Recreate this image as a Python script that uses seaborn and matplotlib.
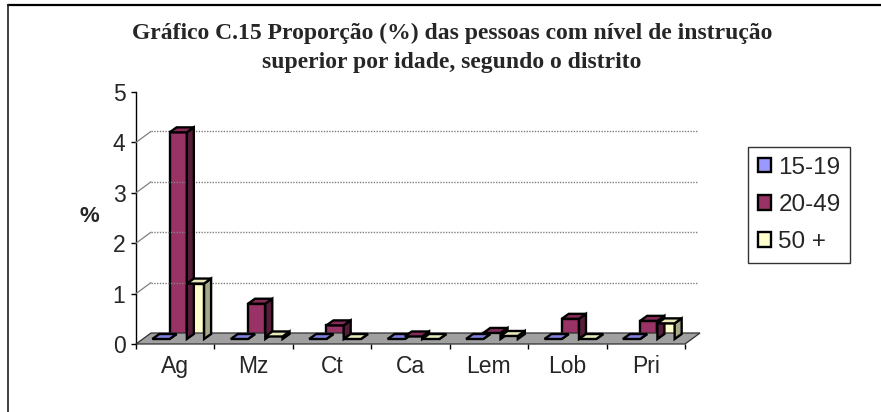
import numpy as np
import pandas as pd
import seaborn as sns
import matplotlib
matplotlib.use("Agg")
import matplotlib.pyplot as plt
from matplotlib.patches import Polygon, Patch
from matplotlib.lines import Line2D
from matplotlib.transforms import ScaledTranslation, IdentityTransform

# --- data -------------------------------------------------------------
districts = ["Ag", "Mz", "Ct", "Ca", "Lem", "Lob", "Pri"]
age_groups = ["15-19", "20-49", "50 +"]
pct_15_19 = [0.0, 0.0, 0.0, 0.0, 0.0, 0.0, 0.0]
pct_20_49 = [4.1, 0.7, 0.27, 0.05, 0.12, 0.4, 0.36]
pct_50_plus = [1.1, 0.05, 0.0, 0.0, 0.06, 0.0, 0.31]
y_ticks = [0, 1, 2, 3, 4, 5]

title = ("Gráfico C.15 Proporção (%) das pessoas com nível de instrução\n"
         "superior por idade, segundo o distrito")

front_colors = {"15-19": "#9999FF", "20-49": "#993366", "50 +": "#FFFFCC"}
top_colors = {"15-19": "#8080E0", "20-49": "#862B58", "50 +": "#E8E8B8"}
side_colors = {"15-19": "#5C5C99", "20-49": "#561C39", "50 +": "#A8A888"}

df = pd.DataFrame({
    "distrito": districts * 3,
    "idade": ["15-19"] * 7 + ["20-49"] * 7 + ["50 +"] * 7,
    "valor": pct_15_19 + pct_20_49 + pct_50_plus,
})

# --- figure -----------------------------------------------------------
W, H, DPI = 881, 412, 100
sns.set_theme(style="white")
plt.rcParams["font.family"] = ["Liberation Sans", "DejaVu Sans"]
fig = plt.figure(figsize=(W / DPI, H / DPI), dpi=DPI)
fig.patch.set_facecolor("white")

# axes frame = front plane of the 3-D box
ax_l, ax_r, ax_t, ax_b = 136, 685, 92, 344
ax = fig.add_axes([ax_l / W, 1 - ax_b / H, (ax_r - ax_l) / W, (ax_b - ax_t) / H])
ax.set_facecolor("none")

EDGE = 1.7
sns.barplot(data=df, x="distrito", y="valor", hue="idade",
            order=districts, hue_order=age_groups,
            palette=front_colors, width=0.66, saturation=1,
            edgecolor="black", linewidth=EDGE, legend=False, ax=ax)
ax.set_xlim(-0.5, len(districts) - 0.5)
ax.set_ylim(0, 5)

# depth of the box (floor / back wall) and of each column, in pixels
DX, DY = 15, 11
BAR_SHIFT_X, BAR_SHIFT_Y = 3, 5
BDX, BDY = 7, 5

px = lambda v: v / DPI
to_disp = ax.transData.transform

# back-wall gridlines and the diagonals joining them to the value axis
for v in y_ticks[1:-1]:
    x0, y0 = to_disp((-0.5, v))
    x1, _ = to_disp((len(districts) - 0.5, v))
    fig.add_artist(Line2D([x0 + DX, x1 + DX - 3], [y0 + DY, y0 + DY],
                          transform=IdentityTransform(), color="#808080",
                          lw=1.0, ls=(0, (1, 1)), zorder=1))
    fig.add_artist(Line2D([x0, x0 + DX], [y0, y0 + DY],
                          transform=IdentityTransform(), color="#808080",
                          lw=0.9, zorder=1))

# grey floor
fx0, fy0 = to_disp((-0.5, 0))
fx1, _ = to_disp((len(districts) - 0.5, 0))
floor = Polygon([(fx0, fy0), (fx1, fy0), (fx1 + DX, fy0 + DY), (fx0 + DX, fy0 + DY)],
                closed=True, transform=IdentityTransform(), facecolor="#A0A0A0",
                edgecolor="#303030", lw=0.9, zorder=1.5)
fig.add_artist(floor)

# give each column its top and side faces
bars = sorted(ax.patches, key=lambda p: p.get_x())
shift = ScaledTranslation(px(BAR_SHIFT_X), px(BAR_SHIFT_Y), fig.dpi_scale_trans)


def group_of(face):
    rgb = np.array(face[:3])
    return min(front_colors,
               key=lambda k: np.abs(np.array(matplotlib.colors.to_rgb(front_colors[k])) - rgb).sum())


for i, bar in enumerate(bars):
    x, w, h = bar.get_x(), bar.get_width(), bar.get_height()
    key = group_of(bar.get_facecolor())
    z = 3 + i * 0.01
    bar.set_transform(ax.transData + shift)
    bar.set_clip_on(False)
    bar.set_zorder(z)
    bar.set_joinstyle("miter")
    xa, ya = to_disp((x, 0))
    xb, yb = to_disp((x + w, h))
    xa += BAR_SHIFT_X; xb += BAR_SHIFT_X
    ya += BAR_SHIFT_Y; yb += BAR_SHIFT_Y
    side = Polygon([(xb, ya), (xb + BDX, ya + BDY), (xb + BDX, yb + BDY), (xb, yb)],
                   closed=True, transform=IdentityTransform(),
                   facecolor=side_colors[key], edgecolor="black", lw=EDGE,
                   joinstyle="miter", zorder=z)
    top = Polygon([(xa, yb), (xa + BDX, yb + BDY), (xb + BDX, yb + BDY), (xb, yb)],
                  closed=True, transform=IdentityTransform(),
                  facecolor=top_colors[key], edgecolor="black", lw=EDGE,
                  joinstyle="miter", zorder=z)
    fig.add_artist(side)
    fig.add_artist(top)

# axes styling
for s in ["top", "right", "bottom"]:
    ax.spines[s].set_visible(False)
ax.spines["left"].set_color("black")
ax.spines["left"].set_linewidth(1.0)
ax.spines["left"].set_zorder(2)

ax.set_yticks(y_ticks)
ax.set_yticklabels([str(t) for t in y_ticks])
ax.tick_params(axis="y", which="major", direction="out", length=3.6,
               width=1.0, color="black", pad=4, labelsize=16.5, left=True)
ax.set_xticks(range(len(districts)))
ax.set_xticklabels(districts)
ax.set_xticks(np.arange(-0.5, len(districts), 1.0), minor=True)
ax.tick_params(axis="x", which="major", length=0, pad=8, labelsize=16.5)
ax.tick_params(axis="x", which="minor", direction="out", length=3.6,
               width=1.0, color="black", bottom=True)
ax.set_xlabel("")
ax.set_ylabel("")
ax.grid(False)

fig.text(89 / W, 1 - 216 / H, "%", ha="center", va="center",
         fontsize=16, fontweight="bold")

fig.text(452 / W, 1 - 48 / H, title, ha="center", va="center", ma="center",
         fontsize=17, fontweight="bold", family=["Liberation Serif", "DejaVu Serif"],
         linespacing=1.5)

handles = [Patch(facecolor=front_colors[g], edgecolor="black", lw=EDGE) for g in age_groups]
leg = fig.legend(handles, age_groups, loc="upper left",
                 bbox_to_anchor=(748 / W, 1 - 147 / H),
                 frameon=True, fancybox=False, edgecolor="black",
                 fontsize=17.5, handlelength=0.55, handleheight=0.55,
                 handletextpad=0.3, labelspacing=0.62, borderpad=0.4,
                 borderaxespad=0)
leg.get_frame().set_linewidth(1.0)

# outer chart border (top and left edges of the chart area)
fig.add_artist(Line2D([8, W + 5], [H - 5, H - 5], transform=IdentityTransform(),
                      color="black", lw=1.6))
fig.add_artist(Line2D([8, 8], [H - 5, -5], transform=IdentityTransform(),
                      color="#202020", lw=1.2))

fig.savefig("out.png", dpi=DPI)
